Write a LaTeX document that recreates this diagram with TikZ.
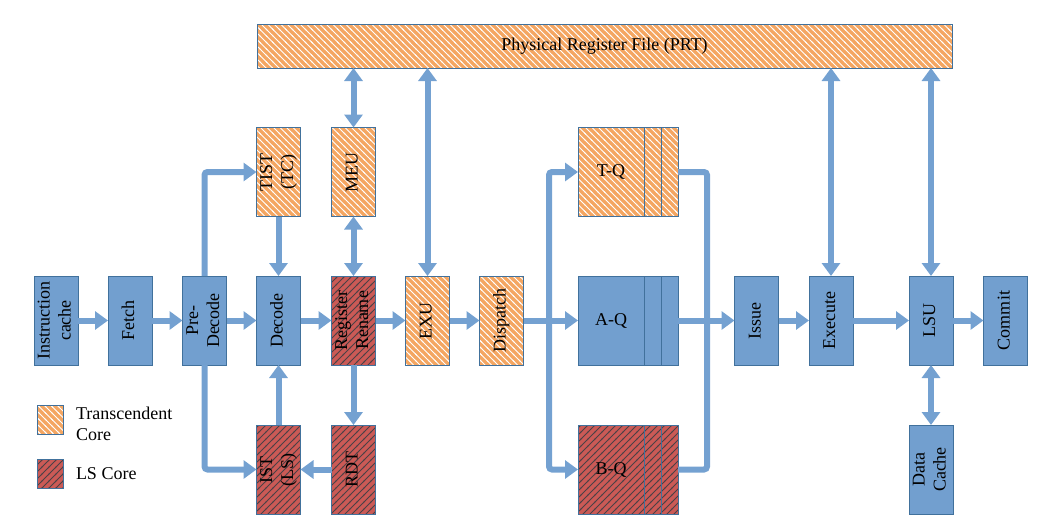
\documentclass[tikz,border=0pt]{standalone}
\usepackage{fontspec}
\setmainfont{Liberation Serif}
\usepackage{graphicx}
\usetikzlibrary{arrows.meta,patterns.meta,positioning}

\definecolor{stageblue}{RGB}{114,159,207}
\definecolor{edgeblue}{RGB}{65,113,156}
\definecolor{flowblue}{RGB}{116,161,209}
\definecolor{tcorange}{RGB}{244,166,98}
\definecolor{lsred}{RGB}{203,90,86}
\definecolor{lsstripe}{RGB}{75,65,70}

% hatching for the two cores
\tikzdeclarepattern{
  name=tchatch, type=uncolored,
  bounding box={(-1pt,-1pt) and (7.5pt,7.5pt)},
  tile size={(6.5pt,6.5pt)},
  code={\draw[line width=0.8pt] (-1pt,7.5pt) -- (7.5pt,-1pt);}
}
\tikzdeclarepattern{
  name=lshatch, type=uncolored,
  bounding box={(-1pt,-1pt) and (8pt,8pt)},
  tile size={(7pt,7pt)},
  code={\draw[line width=0.8pt] (-1pt,-1pt) -- (8pt,8pt);}
}

\newcommand{\vtext}[1]{\rotatebox{90}{\begin{tabular}{@{}c@{}}#1\end{tabular}}}

\begin{document}
\begin{tikzpicture}[x=1pt,y=-1pt,
  every node/.style={font=\fontsize{18}{21}\selectfont,inner sep=0pt,outer sep=0pt},
  stage/.style={draw=edgeblue,line width=1pt,fill=stageblue,
    minimum width=44pt,minimum height=89pt},
  tcore/.style={stage,fill=tcorange,
    postaction={pattern=tchatch,pattern color=white,draw=edgeblue,line width=1pt}},
  lscore/.style={stage,fill=lsred,
    postaction={pattern=lshatch,pattern color=lsstripe,draw=edgeblue,line width=1pt}},
  qslot/.style={minimum width=17pt},
  flow/.style={line width=6pt,draw=flowblue,rounded corners=3pt,
    -{Triangle[width=18pt,length=13pt]}},
  biflow/.style={flow,{Triangle[width=18pt,length=13pt]}-{Triangle[width=18pt,length=13pt]}},
  pipe/.style={line width=6pt,draw=flowblue,rounded corners=3pt}]
\useasboundingbox (0,0) rectangle (1064,530);

% register file
\node[tcore,minimum width=695pt,minimum height=44pt] (prt) at (604.5,46) {Physical Register File (PRT)};

% front end
\node[stage] (icache) at (56,320.5) {\vtext{Instruction\\cache}};
\node[stage] (fetch) at (130,320.5) {\vtext{Fetch}};
\node[stage] (predec) at (204.5,320.5) {\vtext{Pre-\\Decode}};
\node[stage] (decode) at (278.5,320.5) {\vtext{Decode}};
\node[lscore] (rename) at (353.5,320.5) {\vtext{Register\\Rename}};
\node[tcore] (exu) at (427.5,320.5) {\vtext{EXU}};
\node[tcore] (dispatch) at (501.5,320.5) {\vtext{Dispatch}};

\node[tcore] (tist) at (278.5,172) {\vtext{TIST\\(TC)}};
\node[tcore] (meu) at (353.5,172) {\vtext{MEU}};
\node[lscore] (ist) at (278.5,469.5) {\vtext{IST\\(LS)}};
\node[lscore] (rdt) at (353.5,469.5) {\vtext{RDT}};

% queues
\node[tcore,minimum width=66pt] (tq) at (611,172) {T-Q};
\node[tcore,qslot,right=0pt of tq] (tq1) {};
\node[tcore,qslot,right=0pt of tq1] (tq2) {};
\node[stage,minimum width=66pt] (aq) at (611,320.5) {A-Q};
\node[stage,qslot,right=0pt of aq] (aq1) {};
\node[stage,qslot,right=0pt of aq1] (aq2) {};
\node[lscore,minimum width=66pt] (bq) at (611,469.5) {B-Q};
\node[lscore,qslot,right=0pt of bq] (bq1) {};
\node[lscore,qslot,right=0pt of bq1] (bq2) {};
\foreach \q in {tq,tq1,aq,aq1,bq,bq1}
  \draw[edgeblue,line width=1pt] (\q.north east) -- (\q.south east);

% back end
\node[stage] (issue) at (756.5,320.5) {\vtext{Issue}};
\node[stage] (execute) at (831,320.5) {\vtext{Execute}};
\node[stage] (lsu) at (931,320.5) {\vtext{LSU}};
\node[stage] (commit) at (1005.5,320.5) {\vtext{Commit}};
\node[stage] (dcache) at (931,469.5) {\vtext{Data\\Cache}};

% legend
\node[tcore,minimum width=26pt,minimum height=29pt] (legtc) at (50,419.5) {};
\node[right=13pt of legtc,align=left,yshift=-4pt] (legtctext) {Transcendent\\Core};
\node[lscore,minimum width=26pt,minimum height=29pt] (legls) at (50,473.5) {};
\node[right=13pt of legls] (leglstext) {LS Core};

\coordinate (qfork) at (549,320.5);
\coordinate (qjoin) at (707,320.5);

\draw[flow] (icache) -- (fetch);
\draw[flow] (fetch) -- (predec);
\draw[flow] (predec) -- (decode);
\draw[flow] (decode) -- (rename);
\draw[flow] (rename) -- (exu);
\draw[flow] (exu) -- (dispatch);
\draw[flow] (dispatch) -- (aq);
\draw[flow] (predec.north) |- (tist);
\draw[flow] (predec.south) |- (ist);
\draw[flow] (tist) -- (decode);
\draw[flow] (ist) -- (decode);
\draw[biflow] (meu) -- (meu |- prt.south);
\draw[biflow] (meu) -- (rename);
\draw[flow] (rename) -- (rdt);
\draw[flow] (rdt) -- (ist);
\draw[biflow] (exu) -- (exu |- prt.south);
\draw[flow] (qfork) |- (tq);
\draw[flow] (qfork) |- (bq);
\draw[pipe] (tq2) -| (qjoin) |- (bq2);
\draw[flow] (aq2) -- (issue);
\draw[flow] (issue) -- (execute);
\draw[flow] (execute) -- (lsu);
\draw[flow] (lsu) -- (commit);
\draw[biflow] (execute) -- (execute |- prt.south);
\draw[biflow] (lsu) -- (lsu |- prt.south);
\draw[biflow] (lsu) -- (dcache);
\end{tikzpicture}
\end{document}
